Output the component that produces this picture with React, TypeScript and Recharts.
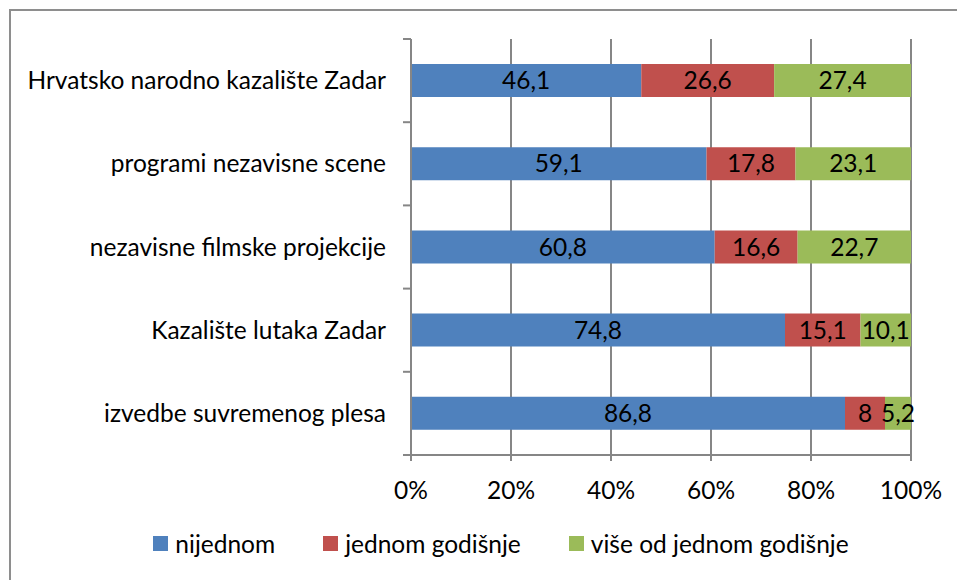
import { BarChart, Bar, XAxis, YAxis, CartesianGrid, LabelList, Legend } from "recharts"

const categories = [
  "Hrvatsko narodno kazalište Zadar",
  "programi nezavisne scene",
  "nezavisne filmske projekcije",
  "Kazalište lutaka Zadar",
  "izvedbe suvremenog plesa",
]
const nijednom = [46.1, 59.1, 60.8, 74.8, 86.8]
const jednomGodisnje = [26.6, 17.8, 16.6, 15.1, 8]
const viseOdJednom = [27.4, 23.1, 22.7, 10.1, 5.2]
const xTicks = [0, 0.2, 0.4, 0.6, 0.8, 1]

const series = [
  { key: "nijednom", name: "nijednom", color: "#4F81BD" },
  { key: "jednom", name: "jednom godišnje", color: "#C0504D" },
  { key: "vise", name: "više od jednom godišnje", color: "#9BBB59" },
]

const data = categories.map((name, i) => ({
  name,
  nijednom: nijednom[i],
  jednom: jednomGodisnje[i],
  vise: viseOdJednom[i],
}))

const FONT = "Lato, 'Open Sans', sans-serif"
const FS = 24.5
const AXIS = "#868686"
const TICK_SIZE = 8
const TICK_MARGIN = 17

const fmt = (v: number) => String(v).replace(".", ",")

// labels plus the little marks between categories, like Excel does
const YTick = (props: any) => {
  const { x, y, payload, index, visibleTicksCount, height } = props
  const lineX = x + TICK_SIZE + TICK_MARGIN
  const step = (height || 416) / (visibleTicksCount || 5)
  return (
    <g>
      <text x={x} y={y} dy="0.355em" textAnchor="end" fill="#000" fontSize={FS} fontFamily={FONT}>
        {payload.value}
      </text>
      <line x1={lineX - TICK_SIZE} x2={lineX} y1={y - step / 2} y2={y - step / 2} stroke={AXIS} strokeWidth={2} />
      {index === visibleTicksCount - 1 && (
        <line x1={lineX - TICK_SIZE} x2={lineX} y1={y + step / 2} y2={y + step / 2} stroke={AXIS} strokeWidth={2} />
      )}
    </g>
  )
}

const LegendContent = () => (
  <div style={{ display: "flex", justifyContent: "center", gap: 48, paddingLeft: 91, paddingTop: 9, fontFamily: FONT, fontSize: FS, color: "#000" }}>
    {series.map(s => (
      <div key={s.key} style={{ display: "flex", alignItems: "center" }}>
        <span style={{ width: 15, height: 15, background: s.color, marginRight: 7, display: "inline-block" }} />
        <span>{s.name}</span>
      </div>
    ))}
  </div>
)

export default function App() {
  return (
    <div style={{ position: "absolute", left: 0, top: 0, width: 957, height: 580, background: "#fff", overflow: "hidden" }}>
      <div style={{ position: "absolute", left: 9, top: 9, width: 1000, height: 1000, borderTop: "2px solid #8e8e8e", borderLeft: "2px solid #8e8e8e" }} />
      <BarChart
        width={957}
        height={580}
        data={data}
        layout="vertical"
        stackOffset="expand"
        barSize={33}
        margin={{ top: 39, right: 46, left: 0, bottom: 10 }}
      >
        <CartesianGrid horizontal={false} stroke={AXIS} strokeWidth={2} />
        <XAxis
          type="number"
          domain={[0, 1]}
          ticks={xTicks}
          tickFormatter={(v: number) => `${Math.round(v * 100)}%`}
          height={65}
          tickSize={6}
          tickMargin={21}
          axisLine={{ stroke: AXIS, strokeWidth: 2 }}
          tickLine={{ stroke: AXIS, strokeWidth: 2 }}
          tick={{ fill: "#000", fontSize: FS, fontFamily: FONT }}
        />
        <YAxis
          type="category"
          dataKey="name"
          width={411}
          tickSize={TICK_SIZE}
          tickMargin={TICK_MARGIN}
          tickLine={false}
          axisLine={{ stroke: AXIS, strokeWidth: 2 }}
          tick={<YTick />}
          interval={0}
        />
        {series.map(s => (
          <Bar key={s.key} dataKey={s.key} name={s.name} stackId="a" fill={s.color} isAnimationActive={false}>
            <LabelList
              dataKey={s.key}
              position="center"
              formatter={(v: any) => fmt(v)}
              fill="#000"
              fontSize={FS}
              fontFamily={FONT}
            />
          </Bar>
        ))}
        <Legend verticalAlign="bottom" height={50} content={<LegendContent />} />
      </BarChart>
    </div>
  )
}
